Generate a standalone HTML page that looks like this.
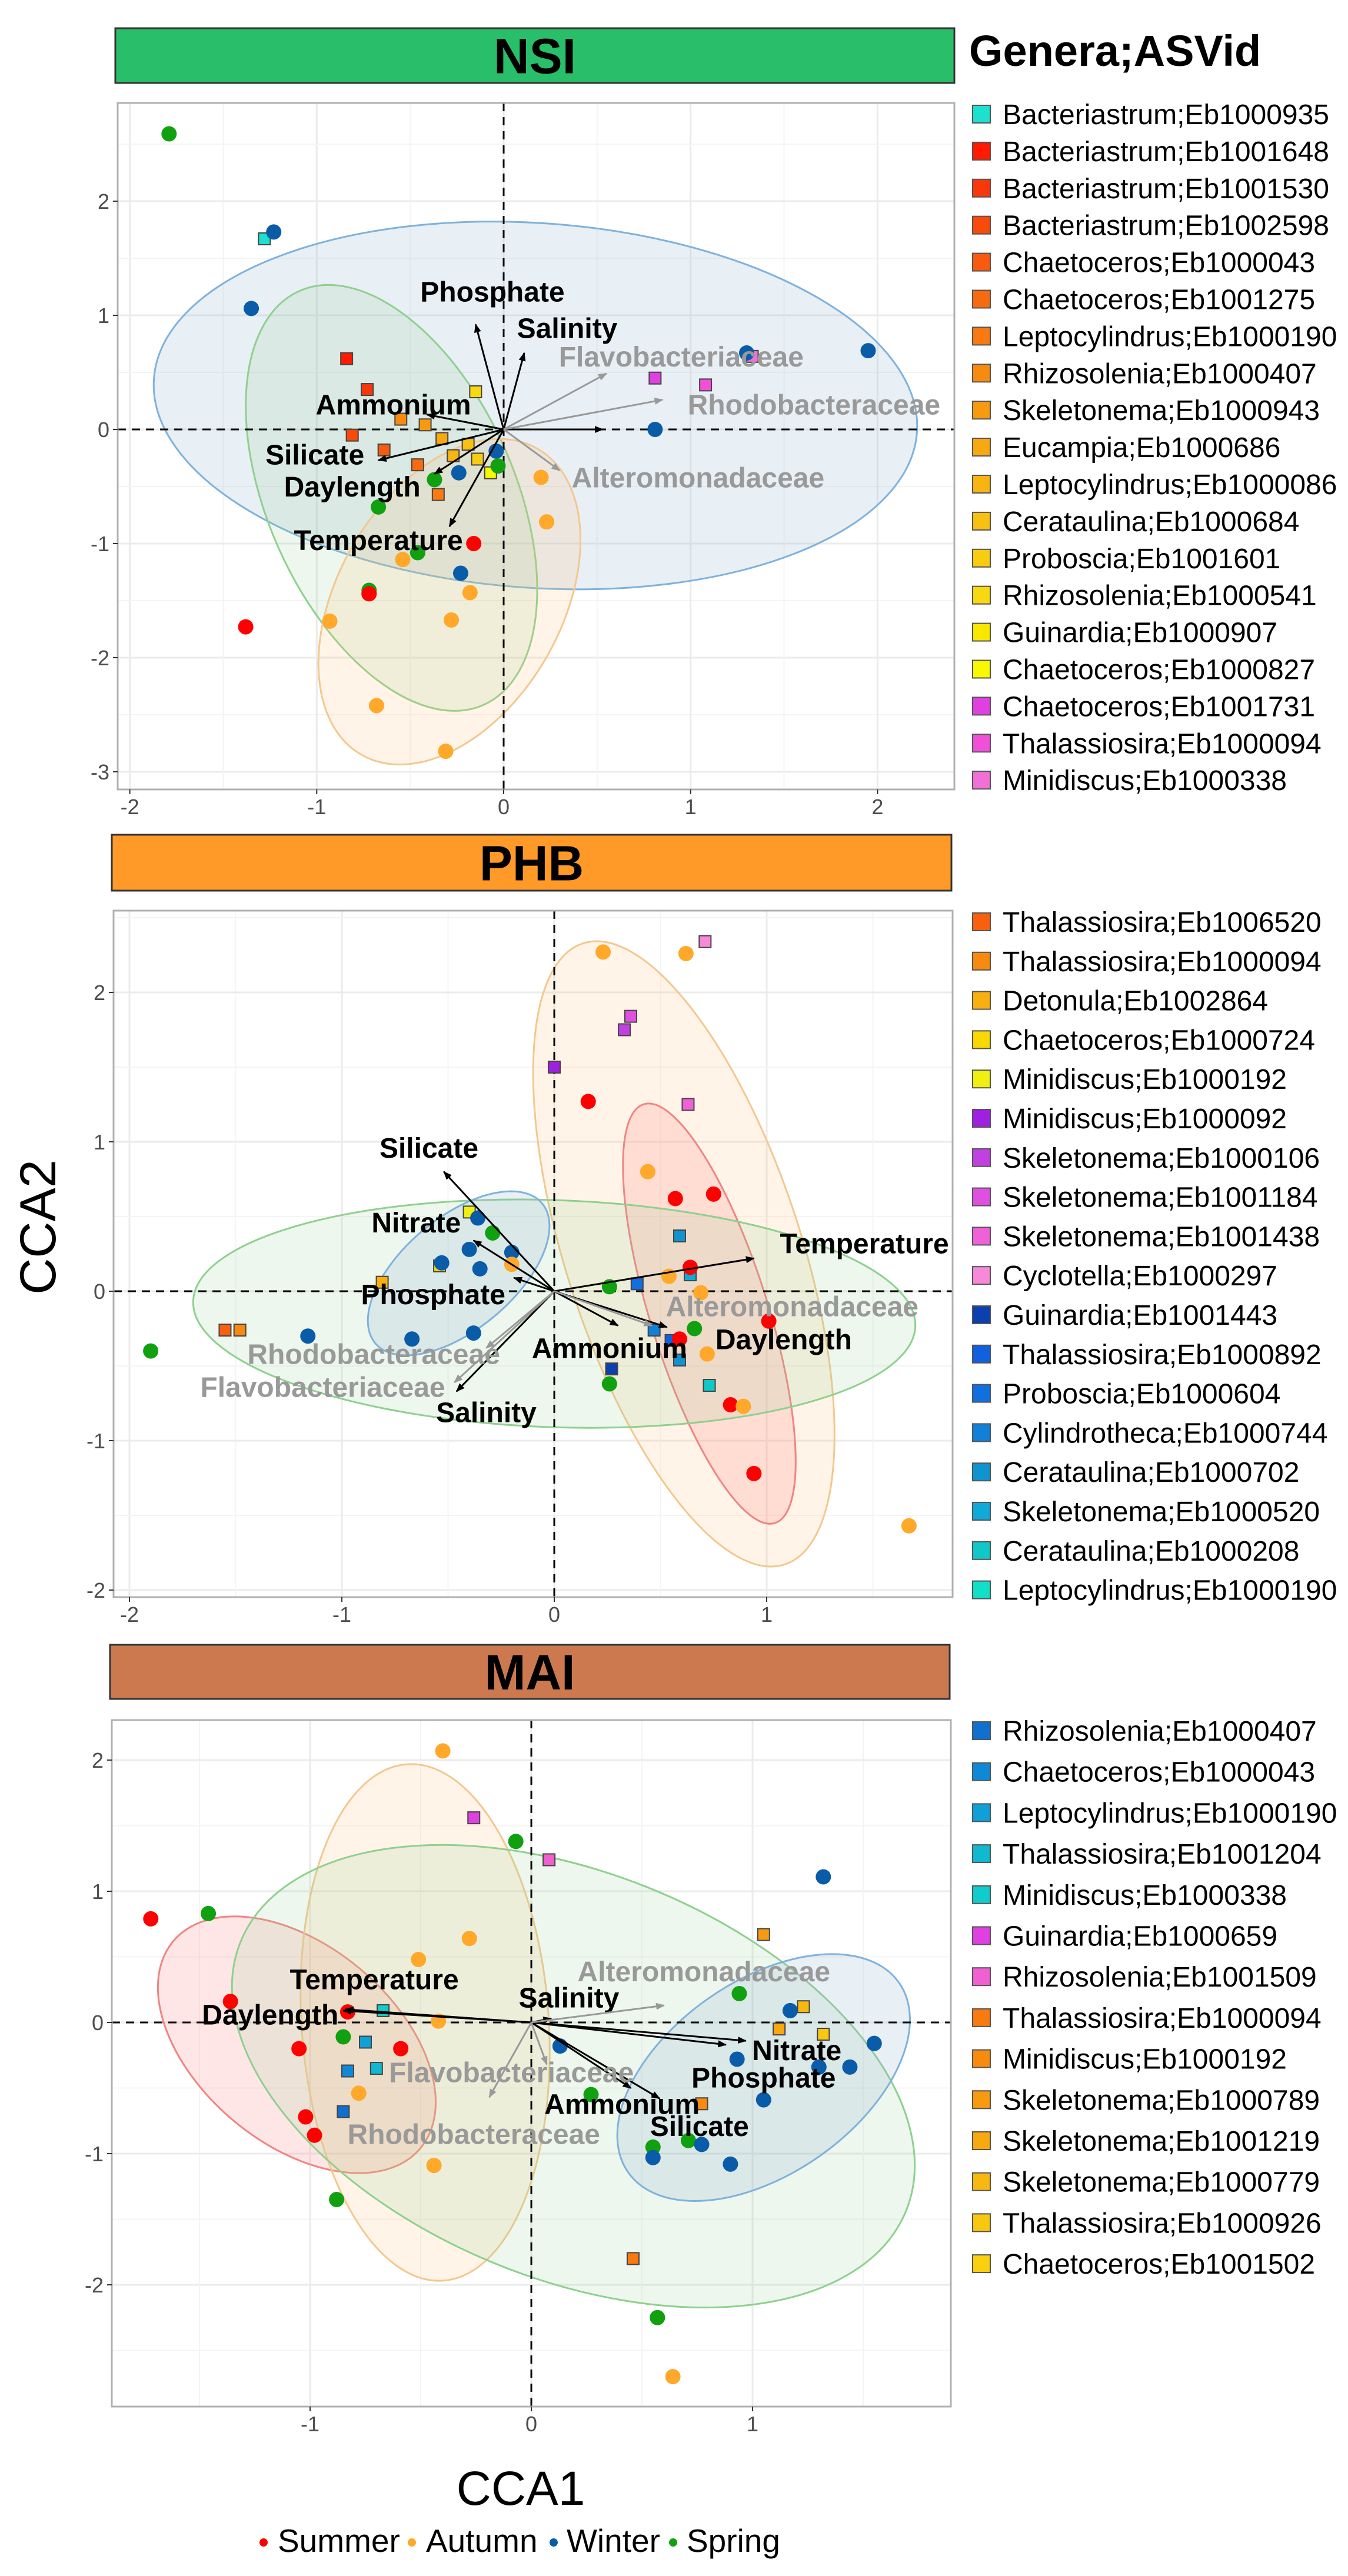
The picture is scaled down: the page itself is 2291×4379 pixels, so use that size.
<!DOCTYPE html>
<html><head><meta charset="utf-8"><style>
html,body{margin:0;padding:0;background:#fff;}
svg{display:block;font-family:"Liberation Sans",Arial,sans-serif;}
</style></head><body>
<svg id="chart" width="2291" height="4379" viewBox="0 0 2291 4379" xmlns="http://www.w3.org/2000/svg">
<text x="1647" y="112" font-size="74" font-weight="bold" fill="#000">Genera;ASVid</text>
<text x="64" y="2086" font-size="86" fill="#000" text-anchor="middle" transform="rotate(-90 64 2086)" dy="30">CCA2</text>
<text x="885" y="4258" font-size="82" fill="#000" text-anchor="middle">CCA1</text>
<g>
<circle cx="448" cy="4322" r="7" fill="#ff0000"/>
<text x="472" y="4338" font-size="55">Summer</text>
<circle cx="700" cy="4322" r="7" fill="#ffa82a"/>
<text x="724" y="4338" font-size="55">Autumn</text>
<circle cx="941" cy="4322" r="7" fill="#0a5ca8"/>
<text x="963" y="4338" font-size="55">Winter</text>
<circle cx="1144" cy="4322" r="7" fill="#10a010"/>
<text x="1167" y="4338" font-size="55">Spring</text>
</g>
</svg>
<script>
// ---------- DATA ----------
const seasonColors = ["#ff0000","#ffa82a","#0a5ca8","#10a010"]; // Summer Autumn Winter Spring

// NSI
const nsiCircX = [-1.79,-1.23,-1.35,1.30,1.95,0.81,-0.04,-0.24,-0.03,-0.37,-0.67,0.20,0.23,-0.46,-0.54,-0.23,-0.72,-0.18,-1.38,-0.93,-0.28,-0.68,-0.31,-0.72,-0.16];
const nsiCircY = [2.59,1.73,1.06,0.67,0.69,0.00,-0.19,-0.38,-0.32,-0.44,-0.68,-0.42,-0.81,-1.08,-1.14,-1.26,-1.41,-1.43,-1.73,-1.68,-1.67,-2.42,-2.82,-1.44,-1.00];
const nsiCircS = [3,2,2,2,2,2,2,2,3,3,3,1,1,3,1,2,3,1,0,1,1,1,1,0,0];
const nsiSqX = [-1.28,-0.84,-0.73,-0.15,-0.55,-0.42,-0.81,-0.33,-0.64,-0.19,-0.27,-0.14,-0.46,-0.07,-0.35,0.81,1.08,1.33];
const nsiSqY = [1.67,0.62,0.35,0.33,0.09,0.04,-0.05,-0.08,-0.18,-0.13,-0.23,-0.26,-0.31,-0.38,-0.57,0.45,0.39,0.64];
const nsiSqC = [0,1,2,13,7,8,3,9,4,11,10,12,5,15,6,16,17,18];
const nsiArrowNames = ["Phosphate","Salinity","Ammonium","Silicate","Daylength","Temperature","Nitrate","Flavobacteriaceae","Rhodobacteraceae","Alteromonadaceae"];
const nsiArrowX = [-0.15,0.11,-0.41,-0.67,-0.37,-0.29,0.53,0.55,0.85,0.30];
const nsiArrowY = [0.92,0.67,0.13,-0.27,-0.39,-0.85,0.00,0.49,0.26,-0.36];
const nsiLabelX = [-0.06,0.34,-0.59,-1.01,-0.81,-0.67,null,0.95,1.66,1.04];
const nsiLabelY = [1.21,0.89,0.22,-0.22,-0.50,-0.97,null,0.64,0.22,-0.42];
const nsiArrowGray = [0,0,0,0,0,0,0,1,1,1];
const nsiLegendNames = ["Bacteriastrum;Eb1000935","Bacteriastrum;Eb1001648","Bacteriastrum;Eb1001530","Bacteriastrum;Eb1002598","Chaetoceros;Eb1000043","Chaetoceros;Eb1001275","Leptocylindrus;Eb1000190","Rhizosolenia;Eb1000407","Skeletonema;Eb1000943","Eucampia;Eb1000686","Leptocylindrus;Eb1000086","Cerataulina;Eb1000684","Proboscia;Eb1001601","Rhizosolenia;Eb1000541","Guinardia;Eb1000907","Chaetoceros;Eb1000827","Chaetoceros;Eb1001731","Thalassiosira;Eb1000094","Minidiscus;Eb1000338"];
const nsiLegendColors = ["#1ee0cf","#ff1a00","#f8380c","#f84a0a","#f85a10","#f86a10","#f87a10","#f88a10","#f89a10","#f8a810","#f8b410","#f8c010","#f8cc10","#f8d810","#f8e800","#f8f800","#e040e0","#f050d8","#f070d8"];
const nsiEllCx = [0.17,-0.60,-0.29];
const nsiEllCy = [0.21,-0.60,-1.51];

// PHB
const phbCircX = [0.23,0.62,0.16,0.44,0.57,0.75,0.64,0.54,0.69,0.26,1.01,0.66,0.59,0.72,0.26,0.83,0.89,0.94,1.67,-1.90,-1.16,-0.67,-0.38,-0.36,-0.29,-0.40,-0.53,-0.35,-0.20,-0.20];
const phbCircY = [2.27,2.26,1.27,0.80,0.62,0.65,0.16,0.10,-0.01,0.03,-0.20,-0.25,-0.32,-0.42,-0.62,-0.76,-0.77,-1.22,-1.57,-0.40,-0.30,-0.32,-0.28,0.49,0.39,0.28,0.19,0.15,0.26,0.18];
const phbCircS = [1,1,0,1,0,0,0,1,1,3,0,3,0,1,3,0,1,0,1,3,2,2,2,2,3,2,2,2,2,1];
const phbSqX = [0.71,0.36,0.33,0.00,0.63,0.59,-0.40,-0.54,-0.81,-1.55,-1.48,0.39,0.64,0.47,0.55,0.59,0.27,0.73];
const phbSqY = [2.34,1.84,1.75,1.50,1.25,0.37,0.53,0.17,0.06,-0.26,-0.26,0.05,0.11,-0.26,-0.33,-0.46,-0.52,-0.63];
const phbSqC = [9,7,6,5,8,14,4,3,2,0,1,12,15,13,11,14,10,16];
const phbArrowNames = ["Silicate","Nitrate","Phosphate","Temperature","Ammonium","Daylength","Salinity","Alteromonadaceae","Rhodobacteraceae","Flavobacteriaceae"];
const phbArrowX = [-0.52,-0.38,-0.19,0.94,0.30,0.53,-0.46,0.46,-0.32,-0.47];
const phbArrowY = [0.80,0.34,0.09,0.22,-0.23,-0.24,-0.67,-0.23,-0.38,-0.61];
const phbLabelX = [-0.59,-0.65,-0.57,1.46,0.26,1.08,-0.32,1.12,-0.85,-1.09];
const phbLabelY = [0.96,0.46,-0.02,0.32,-0.38,-0.32,-0.81,-0.10,-0.42,-0.64];
const phbArrowGray = [0,0,0,0,0,0,0,1,1,1];
const phbLegendNames = ["Thalassiosira;Eb1006520","Thalassiosira;Eb1000094","Detonula;Eb1002864","Chaetoceros;Eb1000724","Minidiscus;Eb1000192","Minidiscus;Eb1000092","Skeletonema;Eb1000106","Skeletonema;Eb1001184","Skeletonema;Eb1001438","Cyclotella;Eb1000297","Guinardia;Eb1001443","Thalassiosira;Eb1000892","Proboscia;Eb1000604","Cylindrotheca;Eb1000744","Cerataulina;Eb1000702","Skeletonema;Eb1000520","Cerataulina;Eb1000208","Leptocylindrus;Eb1000190"];
const phbLegendColors = ["#f86010","#f88a10","#f8b010","#f8d800","#f0f010","#a020e0","#c040e0","#e050e0","#f060d8","#f888d8","#0a40b0","#1060e0","#1070e0","#1080d8","#1094d0","#10aad8","#10c8c8","#10e0c8"];
const phbEllCx = [0.61,0.73,0.00,-0.45];
const phbEllCy = [0.25,-0.15,-0.15,0.12];

// MAI
const maiCircX = [-1.72,-1.46,-1.36,-0.83,-0.85,-1.05,-0.59,-1.02,-0.98,-0.88,-0.40,-0.07,-0.28,-0.51,-0.42,-0.78,-0.44,1.32,0.94,1.17,1.55,0.93,1.30,1.44,1.05,0.13,0.27,0.71,0.77,0.55,0.55,0.90,0.57,0.64];
const maiCircY = [0.79,0.83,0.16,0.08,-0.11,-0.20,-0.20,-0.72,-0.86,-1.35,2.07,1.38,0.64,0.48,0.01,-0.54,-1.09,1.11,0.22,0.09,-0.16,-0.28,-0.34,-0.34,-0.59,-0.18,-0.55,-0.90,-0.93,-0.95,-1.03,-1.08,-2.25,-2.70];
const maiCircS = [0,3,0,0,3,0,0,0,0,3,1,3,1,1,1,1,1,2,3,2,2,2,2,2,2,2,3,3,2,3,2,2,3,1];
const maiSqX = [-0.26,0.08,-0.67,-0.75,-0.70,-0.83,-0.85,1.05,1.23,1.12,1.32,0.77,0.46];
const maiSqY = [1.56,1.24,0.09,-0.15,-0.35,-0.37,-0.68,0.67,0.12,-0.05,-0.09,-0.62,-1.80];
const maiSqC = [5,6,4,2,3,1,0,9,11,10,12,8,7];
const maiArrowNames = ["Temperature","Daylength","Salinity","Nitrate","Phosphate","Silicate","Ammonium","Alteromonadaceae","Flavobacteriaceae","Rhodobacteraceae"];
const maiArrowX = [-0.84,-0.85,0.09,0.97,0.88,0.58,0.45,0.60,0.07,-0.19];
const maiArrowY = [0.10,0.09,0.03,-0.14,-0.17,-0.58,-0.50,0.13,-0.32,-0.57];
const maiLabelX = [-0.71,-1.18,0.17,1.20,1.05,0.76,0.41,0.78,-0.09,-0.26];
const maiLabelY = [0.33,0.06,0.19,-0.21,-0.42,-0.79,-0.62,0.39,-0.38,-0.85];
const maiArrowGray = [0,0,0,0,0,0,0,1,1,1];
const maiLegendNames = ["Rhizosolenia;Eb1000407","Chaetoceros;Eb1000043","Leptocylindrus;Eb1000190","Thalassiosira;Eb1001204","Minidiscus;Eb1000338","Guinardia;Eb1000659","Rhizosolenia;Eb1001509","Thalassiosira;Eb1000094","Minidiscus;Eb1000192","Skeletonema;Eb1000789","Skeletonema;Eb1001219","Skeletonema;Eb1000779","Thalassiosira;Eb1000926","Chaetoceros;Eb1001502"];
const maiLegendColors = ["#1070d0","#1088d8","#10a0d8","#10b8d0","#10cccc","#e040e0","#f060d0","#f87a10","#f88a10","#f89a10","#f8a810","#f8b810","#f8c810","#f8d010"];
const maiEllCx = [-1.06,-0.48,0.19,1.05];
const maiEllCy = [-0.17,0.00,-0.41,-0.42];

// ---------- STYLE / GEOMETRY ----------
const ellStyles = {
  blue:["rgba(150,180,210,0.22)","#7fb2dc"], green:["rgba(150,210,150,0.17)","#8fd08f"],
  orange:["rgba(255,190,110,0.17)","#f2c890"], red:["rgba(255,140,140,0.22)","#f08484"]
};
const panels = [
 {key:"nsi", title:"NSI", strip:"#29bf6a", sx:[196,48,1426,93], box:[200,175,1622,1342], x0:856, ux:317.7, y0:730, uy:194,
  xt:[-2,-1,0,1,2], yt:[-3,-2,-1,0,1,2], leg:[194,62.9],
  cx:nsiCircX, cy:nsiCircY, cs:nsiCircS, qx:nsiSqX, qy:nsiSqY, qc:nsiSqC,
  an:nsiArrowNames, ax:nsiArrowX, ay:nsiArrowY, lx:nsiLabelX, ly:nsiLabelY, ag:nsiArrowGray,
  ln:nsiLegendNames, lc:nsiLegendColors, ecx:nsiEllCx, ecy:nsiEllCy,
  ell:[["blue",650,310,4],["green",385,210,66],["orange",300,190,-60]]},
 {key:"phb", title:"PHB", strip:"#ff9a28", sx:[190,1419,1427,95], box:[193,1548,1619,2715], x0:942, ux:361, y0:2195, uy:254,
  xt:[-2,-1,0,1], yt:[-2,-1,0,1,2], leg:[1567,66.8],
  cx:phbCircX, cy:phbCircY, cs:phbCircS, qx:phbSqX, qy:phbSqY, qc:phbSqC,
  an:phbArrowNames, ax:phbArrowX, ay:phbArrowY, lx:phbLabelX, ly:phbLabelY, ag:phbArrowGray,
  ln:phbLegendNames, lc:phbLegendColors, ecx:phbEllCx, ecy:phbEllCy,
  ell:[["orange",555,200,72],["red",373,100,72.6],["green",614,193,2],["blue",185,95,-40]]},
 {key:"mai", title:"MAI", strip:"#cd7950", sx:[187,2796,1427,92], box:[190,2924,1616,4091], x0:903, ux:376, y0:3438, uy:223,
  xt:[-1,0,1], yt:[-2,-1,0,1,2], leg:[2942,69.7],
  cx:maiCircX, cy:maiCircY, cs:maiCircS, qx:maiSqX, qy:maiSqY, qc:maiSqC,
  an:maiArrowNames, ax:maiArrowX, ay:maiArrowY, lx:maiLabelX, ly:maiLabelY, ag:maiArrowGray,
  ln:maiLegendNames, lc:maiLegendColors, ecx:maiEllCx, ecy:maiEllCy,
  ell:[["red",274,168,40],["orange",210,440,-4],["green",610,345,22],["blue",281,164,-35]]}
];

const NS="http://www.w3.org/2000/svg";
const svg=document.getElementById("chart");
function mk(tag,attrs,parent){const e=document.createElementNS(NS,tag);for(const k in attrs)e.setAttribute(k,attrs[k]);(parent||svg).appendChild(e);return e;}

const defs=mk("defs",{});
["#000","#999"].forEach((c,i)=>{
  const m=mk("marker",{id:"ah"+i,viewBox:"0 0 10 10",refX:"9",refY:"5",markerWidth:"5",markerHeight:"5",orient:"auto-start-reverse",markerUnits:"strokeWidth"},defs);
  mk("path",{d:"M0,1 L10,5 L0,9 z",fill:c},m);
});

panels.forEach(p=>{
  const X=v=>p.x0+v*p.ux, Y=v=>p.y0-v*p.uy;
  const [bx0,by0,bx1,by1]=p.box;
  const g=mk("g",{});
  
  
  const st=mk("rect",{x:p.sx[0],y:p.sx[1],width:p.sx[2],height:p.sx[3],fill:p.strip,stroke:"#333",["stroke-width"]:3},g);
  
  
  const stt=mk("text",{x:p.sx[0]+p.sx[2]/2,y:p.sx[1]+p.sx[3]/2+30,"text-anchor":"middle","font-size":84,"font-weight":"bold",fill:"#000"},g);
  stt.textContent=p.title;
  
  
  const bg=mk("rect",{x:bx0,y:by0,width:bx1-bx0,height:by1-by0,fill:"#fff"},g);
  
  
  const clipId="clip-"+p.key;
  const cp=mk("clipPath",{id:clipId},defs);
  mk("rect",{x:bx0,y:by0,width:bx1-bx0,height:by1-by0},cp);
  const inner=mk("g",{"clip-path":"url(#"+clipId+")"},g);
  for(let v=-4;v<=4;v+=0.5){
    const major=Number.isInteger(v);
    const xv=X(v); if(xv>bx0&&xv<bx1){const l=mk("line",{x1:xv,x2:xv,y1:by0,y2:by1,stroke:major?"#ebebeb":"#f4f4f4","stroke-width":major?3:2},inner);
       }
    const yv=Y(v); if(yv>by0&&yv<by1){const l=mk("line",{x1:bx0,x2:bx1,y1:yv,y2:yv,stroke:major?"#ebebeb":"#f4f4f4","stroke-width":major?3:2},inner);
       }
  }
  p.ell.forEach((e,i)=>{
    const s=ellStyles[e[0]];
    const el=mk("ellipse",{cx:X(p.ecx[i]),cy:Y(p.ecy[i]),rx:e[1],ry:e[2],transform:`rotate(${e[3]} ${X(p.ecx[i])} ${Y(p.ecy[i])})`,fill:s[0],stroke:s[1],"stroke-width":3},inner);
    
    
  });
  const zx=mk("line",{x1:X(0),x2:X(0),y1:by0,y2:by1,stroke:"#000","stroke-width":3,"stroke-dasharray":"14 10"},inner);
  
  
  const zy=mk("line",{x1:bx0,x2:bx1,y1:Y(0),y2:Y(0),stroke:"#000","stroke-width":3,"stroke-dasharray":"14 10"},inner);
  
  
  p.qx.forEach((v,i)=>{
    const r=mk("rect",{x:X(v)-10,y:Y(p.qy[i])-10,width:20,height:20,fill:p.lc[p.qc[i]],stroke:"#444","stroke-width":2},inner);
    
    
  });
  p.cx.forEach((v,i)=>{
    const c=mk("circle",{cx:X(v),cy:Y(p.cy[i]),r:13,fill:seasonColors[p.cs[i]]},inner);
    
    
  });
  p.an.forEach((n,i)=>{
    const gray=p.ag[i]===1, col=gray?"#999":"#000";
    const a=mk("line",{x1:X(0),y1:Y(0),x2:X(p.ax[i]),y2:Y(p.ay[i]),stroke:col,"stroke-width":3,"marker-end":"url(#ah"+(gray?1:0)+")"},inner);
    
    
    if(p.lx[i]!==null){
      const t=mk("text",{x:X(p.lx[i]),y:Y(p.ly[i])+17,"text-anchor":"middle","font-size":48,"font-weight":"bold",fill:col},inner);
      t.textContent=n;
      
      
    }
  });
  const bd=mk("rect",{x:bx0,y:by0,width:bx1-bx0,height:by1-by0,fill:"none",stroke:"#b0b0b0","stroke-width":3},g);
  
  
  p.xt.forEach(v=>{
    const tm=mk("line",{x1:X(v),x2:X(v),y1:by1,y2:by1+8,stroke:"#333","stroke-width":2},g);
     
    const t=mk("text",{x:X(v),y:by1+42,"text-anchor":"middle","font-size":36,fill:"#4d4d4d"},g);
    t.textContent=String(v);
    
    
  });
  p.yt.forEach(v=>{
    const tm=mk("line",{x1:bx0-8,x2:bx0,y1:Y(v),y2:Y(v),stroke:"#333","stroke-width":2},g);
     
    const t=mk("text",{x:bx0-14,y:Y(v)+13,"text-anchor":"end","font-size":36,fill:"#4d4d4d"},g);
    t.textContent=String(v);
    
    
  });
  p.ln.forEach((n,i)=>{
    const cy=p.leg[0]+i*p.leg[1];
    const sq=mk("rect",{x:1653,y:cy-15,width:30,height:30,fill:p.lc[i],stroke:"#555","stroke-width":2},g);
    
    
    const t=mk("text",{x:1704,y:cy+17,"font-size":48,fill:"#000"},g);
    t.textContent=n;
    
    
  });
});
</script>
</body></html>
